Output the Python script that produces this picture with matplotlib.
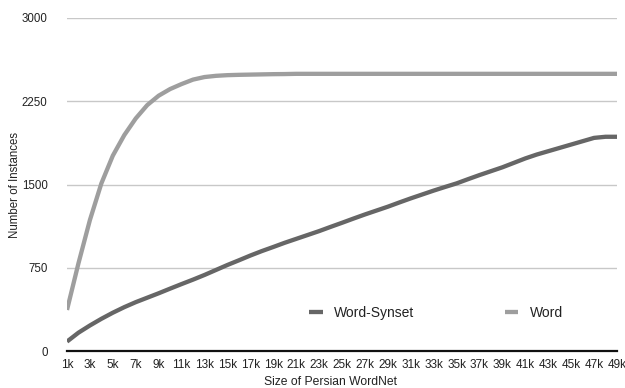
import matplotlib
matplotlib.use('Agg')
import matplotlib.pyplot as plt

plt.rcParams['font.family'] = ['Liberation Sans', 'DejaVu Sans']

# one point per 1k entries, 1k .. 49k
sizes = ['%dk' % k for k in range(1, 50)]
word_synset = [85, 165, 230, 290, 345, 395, 440, 480, 520, 562,
               603, 643, 685, 730, 775, 817, 860, 900, 937, 975,
               1010, 1045, 1080, 1118, 1155, 1193, 1230, 1265, 1300, 1338,
               1375, 1410, 1445, 1478, 1510, 1548, 1585, 1620, 1655, 1695,
               1735, 1770, 1800, 1830, 1860, 1890, 1920, 1930, 1930]
word = [370, 790, 1180, 1510, 1760, 1945, 2095, 2215, 2300, 2360,
        2405, 2445, 2468, 2479, 2485, 2488, 2490, 2492, 2494, 2495,
        2497, 2497, 2497, 2497, 2497, 2497, 2497, 2497, 2497, 2497,
        2497, 2497, 2497, 2497, 2497, 2497, 2497, 2497, 2497, 2497,
        2497, 2497, 2497, 2497, 2497, 2497, 2497, 2497, 2497]
yticks = [0, 750, 1500, 2250, 3000]

fig = plt.figure(figsize=(6.25, 3.88), dpi=100)
W, H = 625, 388
ax = fig.add_axes([67 / W, 1 - 351 / H, (617 - 67) / W, (351 - 18) / H])

x = list(range(len(sizes)))
ax.plot(x, word_synset, color='#666666', lw=3.1, solid_capstyle='butt', label='Word-Synset', zorder=3)
ax.plot(x, word, color='#9e9e9e', lw=3.1, solid_capstyle='butt', label='Word', zorder=3)

ax.set_xlim(0, len(sizes) - 1)
ax.set_ylim(0, 3000)
ax.set_yticks(yticks)
ax.set_yticklabels([str(v) for v in yticks], fontsize=8.3, color='#222222')
ax.set_xticks(x[::2])
ax.set_xticklabels(sizes[::2], fontsize=8.5, color='#222222')
ax.tick_params(length=0)
ax.tick_params(axis='y', pad=14)
ax.tick_params(axis='x', pad=6)
for v in yticks[1:]:
    ax.axhline(v, color='#c8c8c8', lw=1, zorder=1)
for s in ['top', 'right', 'left']:
    ax.spines[s].set_visible(False)
ax.spines['bottom'].set_color('#111111')
ax.spines['bottom'].set_linewidth(1.6)

fig.text(15 / W, 1 - 185 / H, 'Number of Instances', rotation=90, ha='center', va='center',
         fontsize=8.3, color='#222222')
fig.text(331 / W, 1 - 382 / H, 'Size of Persian WordNet', ha='center', va='center',
         fontsize=8.7, color='#222222')

leg = ax.legend(loc='center left', bbox_to_anchor=(309 / W, 1 - 313 / H), bbox_transform=fig.transFigure,
                ncol=2, frameon=False, fontsize=10, handlelength=1.0, handletextpad=0.8,
                columnspacing=6.5, borderpad=0, borderaxespad=0)
for t in leg.get_texts():
    t.set_color('#222222')

fig.savefig('out.png', dpi=100)
